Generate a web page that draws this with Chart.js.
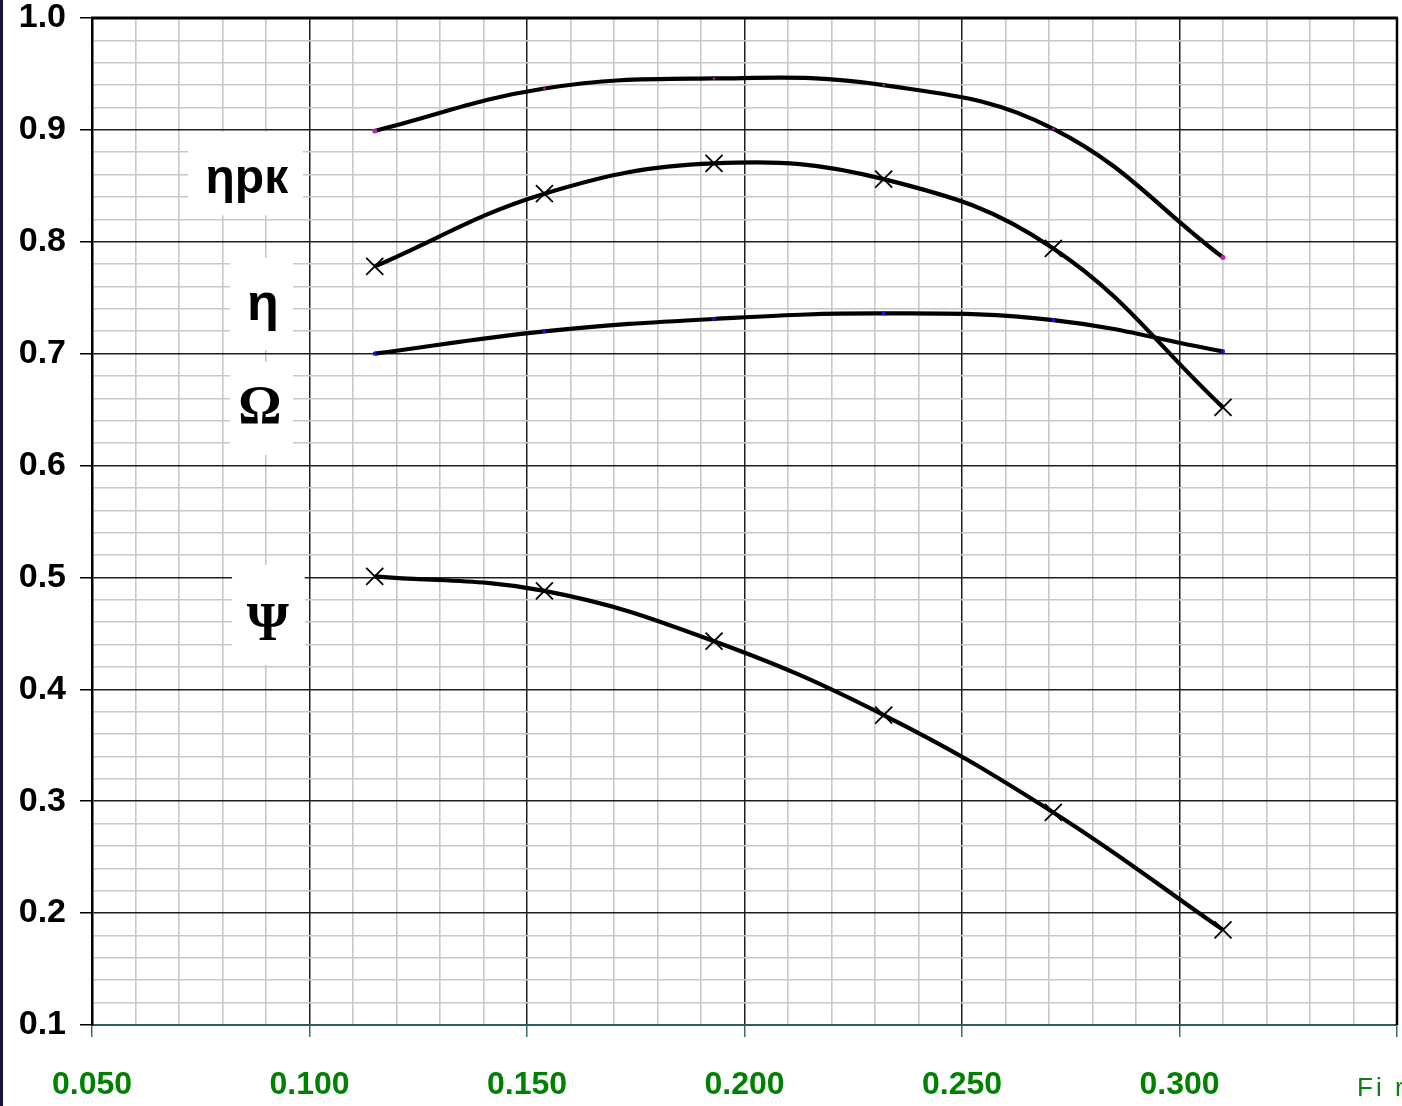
<!DOCTYPE html>
<html><head><meta charset="utf-8">
<script src="https://cdn.jsdelivr.net/npm/chart.js@4"></script>
<style>
html,body{margin:0;padding:0;background:#fff;overflow:hidden;}
#wrap{position:relative;width:1402px;height:1106px;}
#strip{position:absolute;left:0;top:0;width:3px;height:1106px;background:#14143c;}
canvas{display:block;}
</style></head><body>
<div id="wrap"><canvas id="c" width="1402" height="1106"></canvas><div id="strip"></div></div>
<script>
// ---- data ----
const phi    = [0.115, 0.154, 0.193, 0.232, 0.271, 0.310];
const etaRk  = [0.899, 0.937, 0.946, 0.940, 0.901, 0.786];
const eta    = [0.778, 0.843, 0.870, 0.856, 0.794, 0.652];
const omega  = [0.700, 0.720, 0.731, 0.736, 0.730, 0.702];
const psi    = [0.501, 0.488, 0.443, 0.377, 0.290, 0.185];
const xTickLabels = ['0.050','0.100','0.150','0.200','0.250','0.300'];
const yTickLabels = ['0.1','0.2','0.3','0.4','0.5','0.6','0.7','0.8','0.9','1.0'];
const curveLabels = ['ηрк','η','Ω','Ψ'];
const xAxisTitle = 'Fi r';

// label anchors (data coordinates) and white boxes
const labelSpecs = [
  {text: curveLabels[0], x: 0.0856, y: 0.8436, font: 'bold 48px "Liberation Sans", Arial, sans-serif', box: [0.0721, 0.8985, 0.0985, 0.8235]},
  {text: curveLabels[1], x: 0.0893, y: 0.7300, font: 'bold 52px "Liberation Sans", Arial, sans-serif', box: [0.0817, 0.7855, 0.0962, 0.7034]},
  {text: curveLabels[2], x: 0.0886, y: 0.6380, font: 'bold 54px "Liberation Serif", "Times New Roman", serif', box: [0.0817, 0.6925, 0.0962, 0.6095]},
  {text: curveLabels[3], x: 0.0904, y: 0.4440, font: 'bold 54px "Liberation Serif", "Times New Roman", serif', box: [0.0822, 0.5112, 0.0989, 0.4218]}
];

const pts = arr => phi.map((x, i) => ({x: x, y: arr[i]}));
const isMajor = (v, step) => Math.abs(v / step - Math.round(v / step)) < 1e-6;

const decor = {
  id: 'decor',
  beforeDatasetsDraw(chart) {
    const {ctx, chartArea: a, scales: {x, y}} = chart;
    ctx.save();
    ctx.strokeStyle = '#000';
    ctx.lineWidth = 3;
    ctx.beginPath(); ctx.moveTo(a.left - 1, a.top); ctx.lineTo(a.right + 1, a.top); ctx.stroke();
    ctx.lineWidth = 2.5;
    ctx.beginPath(); ctx.moveTo(a.right, a.top); ctx.lineTo(a.right, a.bottom); ctx.stroke();
    labelSpecs.forEach(s => {
      const x0 = x.getPixelForValue(s.box[0]), y0 = y.getPixelForValue(s.box[1]);
      const x1 = x.getPixelForValue(s.box[2]), y1 = y.getPixelForValue(s.box[3]);
      ctx.fillStyle = '#fff';
      ctx.fillRect(x0, y0, x1 - x0, y1 - y0);
      ctx.fillStyle = '#000';
      ctx.font = s.font;
      ctx.textAlign = 'center';
      ctx.textBaseline = 'alphabetic';
      ctx.fillText(s.text, x.getPixelForValue(s.x), y.getPixelForValue(s.y));
    });
    ctx.restore();
  },
  afterDraw(chart) {
    const {ctx} = chart;
    ctx.save();
    ctx.fillStyle = '#0e800e';
    ctx.font = '26px "Liberation Sans", Arial, sans-serif';
    ctx.textAlign = 'left';
    ctx.textBaseline = 'alphabetic';
    try { ctx.letterSpacing = '3px'; } catch (e) {}
    ctx.fillText(xAxisTitle, 1357, 1096);
    ctx.restore();
  }
};

const lineDs = (label, arr, extra) => Object.assign({
  label: label,
  data: pts(arr),
  borderColor: '#000',
  borderWidth: 4.2,
  tension: 0.4,
  fill: false,
  pointBorderColor: '#000',
  pointBackgroundColor: 'rgba(0,0,0,0)'
}, extra);

const zeroPad = s => { s.paddingTop = 0; s.paddingBottom = 0; s.paddingLeft = 0; s.paddingRight = 0; };

new Chart(document.getElementById('c'), {
  type: 'line',
  data: {
    datasets: [
      lineDs(curveLabels[0], etaRk, {pointStyle: 'circle', pointRadius: c => (c.dataIndex === 0 || c.dataIndex === phi.length - 1) ? 2.5 : 1.2, pointBackgroundColor: '#c020c0', pointBorderWidth: 0}),
      lineDs(curveLabels[1], eta, {pointStyle: 'crossRot', pointRadius: 12, pointBorderWidth: 1.8}),
      lineDs(curveLabels[2], omega, {pointStyle: 'rect', pointRadius: 2.6, pointBackgroundColor: '#1010e0', pointBorderColor: '#1010e0', pointBorderWidth: 0}),
      lineDs(curveLabels[3], psi, {pointStyle: 'crossRot', pointRadius: 12, pointBorderWidth: 1.8})
    ]
  },
  options: {
    responsive: false,
    animation: false,
    devicePixelRatio: 1,
    events: [],
    layout: {autoPadding: false, padding: {top: 18, right: 5, left: 0, bottom: 0}},
    plugins: {legend: {display: false}, tooltip: {enabled: false}},
    scales: {
      x: {
        type: 'linear', min: 0.05, max: 0.35,
        afterFit: s => { s.height = 81; zeroPad(s); },
        border: {color: '#2e5e5e', width: 2},
        grid: {
          color: c => isMajor(c.tick.value, 0.05) ? '#1e1e1e' : '#c8c8c8',
          lineWidth: c => isMajor(c.tick.value, 0.05) ? 1.5 : 1.6,
          tickLength: 12,
          tickColor: c => isMajor(c.tick.value, 0.05) ? '#3b6a6a' : 'rgba(0,0,0,0)'
        },
        ticks: {
          stepSize: 0.01, autoSkip: false, maxRotation: 0, minRotation: 0, padding: 32,
          color: '#008000',
          font: {family: '"Liberation Sans", Arial, sans-serif', size: 32, weight: 'bold', lineHeight: 1},
          callback: v => {
            if (!isMajor(v, 0.05)) return '';
            const i = Math.round((v - 0.05) / 0.05);
            return xTickLabels[i] !== undefined ? xTickLabels[i] : '';
          }
        }
      },
      y: {
        type: 'linear', min: 0.1, max: 1.0,
        afterFit: s => { s.width = 92; zeroPad(s); },
        border: {color: '#000', width: 2.5},
        grid: {
          color: c => isMajor(c.tick.value, 0.1) ? '#1e1e1e' : '#c8c8c8',
          lineWidth: c => isMajor(c.tick.value, 0.1) ? 1.5 : 1.6,
          tickLength: 12,
          tickColor: c => isMajor(c.tick.value, 0.1) ? '#000' : 'rgba(0,0,0,0)'
        },
        ticks: {
          stepSize: 0.02, autoSkip: false, padding: 14,
          color: '#000',
          font: {family: '"Liberation Sans", Arial, sans-serif', size: 34, weight: 'bold', lineHeight: 1},
          callback: v => {
            if (!isMajor(v, 0.1)) return '';
            const i = Math.round((v - 0.1) / 0.1);
            return yTickLabels[i] !== undefined ? yTickLabels[i] : '';
          }
        }
      }
    }
  },
  plugins: [decor]
});
</script>
</body></html>
